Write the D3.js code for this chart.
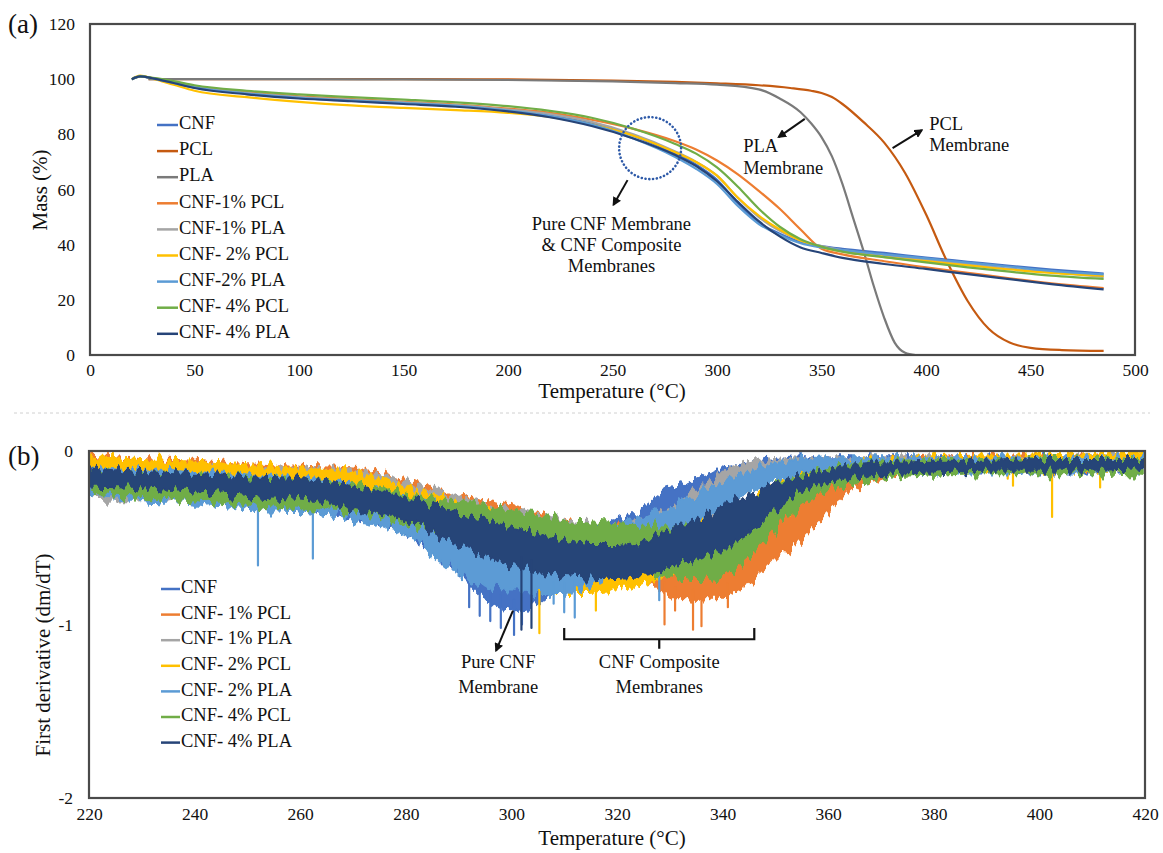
<!DOCTYPE html>
<html>
<head>
<meta charset="utf-8">
<script src="https://cdn.jsdelivr.net/npm/d3@7"></script>
<style>
  body { margin: 0; background: #fff; }
  text { font-family: "Liberation Serif", "Times New Roman", serif; fill: #111; }
</style>
</head>
<body>
<svg id="chart" width="1163" height="853"></svg>
<script>
// ---- (a) TGA mass curves ----
const tgaTemps = [20, 24, 30, 40, 50, 75, 100, 125, 150, 175, 200, 220, 240, 260, 280, 290, 300, 310, 320, 330, 340, 350, 360, 380, 400, 420, 440, 460, 485];
const cnfMass  = [100, 101, 100.3, 98.5, 97, 94.8, 93.2, 92.2, 91.3, 90.3, 88.8, 87, 84.2, 79.5, 73, 69, 63.5, 55, 48, 44, 41, 39.5, 38.5, 37, 35.3, 33.8, 32.3, 31, 29.5];
const pcl1Mass = [100, 101, 100.4, 99, 97.5, 95.3, 93.8, 92.8, 91.8, 90.8, 89.3, 87.8, 85.3, 82, 77.5, 74.5, 70.5, 65.5, 59.5, 53, 45.5, 38.5, 36.5, 34, 31.8, 29.8, 27.8, 26, 24.3];
const pla1Mass = [100, 101, 100.3, 98.8, 97.2, 95, 93.5, 92.5, 91.6, 90.6, 89, 87.3, 84.5, 80, 73.8, 70, 65, 57, 50, 45, 41.5, 39.5, 38, 36.2, 34.5, 33, 31.3, 30, 28.3];
const pcl2Mass = [100, 101.3, 100.2, 98, 95.8, 93.5, 91.8, 90.5, 89.6, 88.8, 87.8, 86.3, 83.5, 79.5, 73.5, 70, 65, 57, 50.5, 45.5, 41.5, 39, 37.5, 35.5, 34, 32.5, 31, 29.8, 28.7];
const pla2Mass = [100, 101, 100.3, 98.6, 97, 94.8, 93.2, 92.2, 91.3, 90.3, 88.6, 86.6, 83.5, 78.5, 71.8, 67.5, 62, 54, 47.5, 43.5, 40.5, 39, 38, 36.5, 35, 33.5, 32, 30.5, 29.2];
const pcl4Mass = [100, 101, 100.5, 99.3, 97.8, 95.8, 94.5, 93.5, 92.6, 91.6, 90.2, 88.5, 86, 82, 76.5, 73, 68, 61, 53, 46.5, 42, 39.3, 37.5, 35.5, 33.6, 31.8, 30.2, 28.8, 27.6];
const pla4Mass = [100, 101, 100.3, 98.6, 96.8, 94.5, 93, 92, 91, 90, 88.3, 86.2, 83, 78.5, 72.5, 68.5, 63, 55.5, 48.5, 43, 39, 37, 35.2, 33, 31.2, 29.3, 27.5, 25.7, 23.8];

const pclTemps = [28, 50, 100, 150, 200, 250, 280, 300, 320, 335, 345, 350, 355, 360, 370, 380, 390, 400, 410, 420, 430, 440, 450, 465, 485];
const pclMass  = [100, 100, 100, 100, 99.9, 99.5, 99, 98.5, 97.8, 96.8, 95.8, 95, 93.5, 91, 84.5, 77, 66, 51, 34, 19.5, 9.5, 4.5, 2.6, 1.8, 1.5];
const plaTemps = [28, 50, 100, 150, 200, 250, 280, 300, 320, 330, 340, 345, 350, 355, 360, 365, 370, 375, 380, 385, 390, 395];
const plaMass  = [100, 100, 100, 99.9, 99.7, 99.2, 98.6, 98, 96.3, 93, 88, 84, 79, 72, 62, 50, 38, 25, 13.5, 4.5, 0.8, 0];

const tgaNames  = ["CNF", "PCL", "PLA", "CNF-1% PCL", "CNF-1% PLA", "CNF- 2% PCL", "CNF-2% PLA", "CNF- 4% PCL", "CNF- 4% PLA"];
const tgaColors = ["#4472C4", "#C55A11", "#7A7A7A", "#ED7D31", "#A5A5A5", "#FFC000", "#5B9BD5", "#70AD47", "#264478"];

// ---- (b) DTG bands (upper / lower envelope of the noisy traces) ----
const dtgTemps = [220, 230, 240, 250, 260, 270, 280, 290, 295, 300, 305, 310, 315, 320, 325, 330, 335, 340, 345, 350, 355, 360, 365, 370, 380, 390, 400, 410, 420];
const cnfHi  = [-0.08, -0.10, -0.12, -0.14, -0.16, -0.20, -0.25, -0.38, -0.45, -0.48, -0.50, -0.48, -0.45, -0.40, -0.32, -0.22, -0.16, -0.10, -0.07, -0.05, -0.04, -0.04, -0.04, -0.04, -0.04, -0.04, -0.04, -0.04, -0.04];
const cnfLo  = [-0.22, -0.24, -0.26, -0.30, -0.32, -0.38, -0.48, -0.70, -0.85, -0.92, -0.88, -0.75, -0.62, -0.55, -0.48, -0.40, -0.32, -0.25, -0.17, -0.14, -0.12, -0.11, -0.11, -0.11, -0.11, -0.12, -0.12, -0.12, -0.12];
const pcl1Hi = [-0.03, -0.05, -0.06, -0.08, -0.09, -0.10, -0.17, -0.26, -0.30, -0.33, -0.37, -0.40, -0.43, -0.45, -0.50, -0.55, -0.58, -0.60, -0.52, -0.38, -0.25, -0.15, -0.09, -0.06, -0.04, -0.03, -0.03, -0.03, -0.03];
const pcl1Lo = [-0.15, -0.16, -0.17, -0.19, -0.20, -0.24, -0.32, -0.42, -0.46, -0.50, -0.54, -0.58, -0.62, -0.66, -0.74, -0.84, -0.86, -0.84, -0.76, -0.63, -0.50, -0.35, -0.22, -0.15, -0.11, -0.10, -0.10, -0.10, -0.10];
const pla1Hi = [-0.08, -0.09, -0.10, -0.10, -0.10, -0.11, -0.18, -0.26, -0.30, -0.34, -0.37, -0.40, -0.42, -0.43, -0.40, -0.32, -0.22, -0.12, -0.06, -0.05, -0.04, -0.04, -0.04, -0.04, -0.04, -0.04, -0.04, -0.04, -0.04];
const pla1Lo = [-0.28, -0.27, -0.25, -0.25, -0.26, -0.28, -0.36, -0.48, -0.52, -0.56, -0.59, -0.62, -0.65, -0.68, -0.64, -0.55, -0.45, -0.35, -0.20, -0.12, -0.10, -0.10, -0.10, -0.10, -0.10, -0.10, -0.10, -0.10, -0.10];
const pcl2Hi = [-0.03, -0.05, -0.06, -0.08, -0.10, -0.12, -0.20, -0.30, -0.34, -0.38, -0.42, -0.45, -0.46, -0.46, -0.45, -0.43, -0.40, -0.35, -0.28, -0.18, -0.12, -0.08, -0.06, -0.05, -0.04, -0.03, -0.03, -0.02, -0.01];
const pcl2Lo = [-0.18, -0.19, -0.20, -0.22, -0.24, -0.27, -0.36, -0.52, -0.62, -0.70, -0.78, -0.82, -0.82, -0.80, -0.76, -0.70, -0.65, -0.60, -0.50, -0.38, -0.26, -0.18, -0.15, -0.13, -0.11, -0.11, -0.11, -0.11, -0.11];
const pla2Hi = [-0.10, -0.11, -0.12, -0.14, -0.16, -0.20, -0.28, -0.35, -0.42, -0.45, -0.48, -0.48, -0.46, -0.42, -0.38, -0.32, -0.25, -0.18, -0.12, -0.07, -0.05, -0.04, -0.04, -0.04, -0.04, -0.04, -0.04, -0.04, -0.04];
const pla2Lo = [-0.26, -0.28, -0.30, -0.34, -0.35, -0.40, -0.48, -0.70, -0.78, -0.80, -0.82, -0.82, -0.78, -0.70, -0.60, -0.50, -0.42, -0.35, -0.26, -0.18, -0.13, -0.11, -0.11, -0.11, -0.12, -0.12, -0.12, -0.12, -0.12];
const pcl4Hi = [-0.12, -0.13, -0.14, -0.15, -0.17, -0.20, -0.25, -0.30, -0.32, -0.35, -0.37, -0.40, -0.41, -0.42, -0.43, -0.44, -0.44, -0.40, -0.30, -0.20, -0.14, -0.10, -0.08, -0.06, -0.05, -0.05, -0.05, -0.05, -0.05];
const pcl4Lo = [-0.25, -0.26, -0.28, -0.30, -0.32, -0.35, -0.42, -0.50, -0.54, -0.58, -0.60, -0.62, -0.64, -0.66, -0.69, -0.72, -0.74, -0.72, -0.62, -0.45, -0.30, -0.22, -0.18, -0.16, -0.14, -0.13, -0.13, -0.13, -0.14];
const pla4Hi = [-0.10, -0.12, -0.13, -0.15, -0.16, -0.20, -0.27, -0.36, -0.40, -0.44, -0.48, -0.52, -0.54, -0.54, -0.52, -0.45, -0.40, -0.32, -0.25, -0.19, -0.15, -0.11, -0.08, -0.07, -0.06, -0.06, -0.05, -0.05, -0.05];
const pla4Lo = [-0.20, -0.21, -0.23, -0.26, -0.28, -0.33, -0.40, -0.54, -0.60, -0.66, -0.70, -0.72, -0.73, -0.72, -0.71, -0.67, -0.62, -0.56, -0.47, -0.34, -0.24, -0.18, -0.15, -0.13, -0.12, -0.11, -0.11, -0.11, -0.10];

// sharp downward spikes [temp, value]
const cnfSpikes  = [[292, -0.9], [294, -0.95], [296, -0.98], [298, -1.02], [300.5, -1.06], [302, -1.0]];
const pcl1Spikes = [[329, -1.0], [331, -0.92], [334.4, -1.03], [336, -1.01], [341, -0.9]];
const pcl2Spikes = [[305.3, -1.05], [316, -0.92], [394, -0.16], [395, -0.2], [402.4, -0.38], [411.5, -0.21]];
const pla2Spikes = [[252, -0.66], [262.4, -0.62], [290, -0.72], [308, -0.88], [310, -0.93], [312, -0.96], [328, -0.86]];
const pla4Spikes = [[301.9, -1.03], [303.8, -1.02]];

const dtgNames  = ["CNF", "CNF- 1% PCL", "CNF- 1% PLA", "CNF- 2% PCL", "CNF- 2% PLA", "CNF- 4% PCL", "CNF- 4% PLA"];
const dtgColors = ["#4472C4", "#ED7D31", "#A5A5A5", "#FFC000", "#5B9BD5", "#70AD47", "#264478"];

const svg = d3.select("#chart");
const font = '"Liberation Serif", "Times New Roman", serif';
const defs = svg.append("defs");

// ===================== panel (a) =====================
const xA = d3.scaleLinear().domain([0, 500]).range([90, 1135]);
const yA = d3.scaleLinear().domain([0, 120]).range([355, 24]);

const tgaSeries = [
  { temps: tgaTemps, mass: cnfMass },
  { temps: pclTemps, mass: pclMass },
  { temps: plaTemps, mass: plaMass },
  { temps: tgaTemps, mass: pcl1Mass },
  { temps: tgaTemps, mass: pla1Mass },
  { temps: tgaTemps, mass: pcl2Mass },
  { temps: tgaTemps, mass: pla2Mass },
  { temps: tgaTemps, mass: pcl4Mass },
  { temps: tgaTemps, mass: pla4Mass },
].map((s, i) => ({ name: tgaNames[i], color: tgaColors[i], pts: s.temps.map((t, j) => [t, s.mass[j]]) }));

const lineA = d3.line().x(d => xA(d[0])).y(d => yA(d[1])).curve(d3.curveMonotoneX);
const gA = svg.append("g");
gA.selectAll("path.tga").data(tgaSeries).enter().append("path")
  .attr("class", "tga")
  .attr("d", d => lineA(d.pts))
  .attr("fill", "none")
  .attr("stroke", d => d.color)
  .attr("stroke-width", 2.2);

gA.append("rect").attr("x", 90).attr("y", 24).attr("width", 1045).attr("height", 331)
  .attr("fill", "none").attr("stroke", "#4a4a4a").attr("stroke-width", 2.2);

const axA = gA.append("g").attr("transform", "translate(0,355)")
  .call(d3.axisBottom(xA).tickValues(d3.range(0, 501, 50)).tickSize(0).tickPadding(9));
const ayA = gA.append("g").attr("transform", "translate(90,0)")
  .call(d3.axisLeft(yA).tickValues(d3.range(0, 121, 20)).tickSize(0).tickPadding(15));
[axA, ayA].forEach(a => {
  a.attr("font-family", font);
  a.select(".domain").remove();
  a.selectAll("text").attr("font-size", 17.5).attr("fill", "#111");
});

gA.append("text").attr("x", 612).attr("y", 393).attr("text-anchor", "middle")
  .attr("dominant-baseline", "middle").attr("font-size", 21).text("Temperature (°C)");
gA.append("text").attr("transform", "translate(42,190) rotate(-90)").attr("text-anchor", "middle")
  .attr("dominant-baseline", "middle").attr("font-size", 21).text("Mass (%)");
svg.append("text").attr("x", 8).attr("y", 33).attr("font-size", 27).text("(a)");

// legend (a)
const legA = gA.append("g");
tgaSeries.forEach((s, i) => {
  const y = 125 + i * 26.1;
  legA.append("line").attr("x1", 157).attr("x2", 178).attr("y1", y).attr("y2", y)
    .attr("stroke", s.color).attr("stroke-width", 2.5);
  legA.append("text").attr("x", 179).attr("y", y).attr("dominant-baseline", "middle")
    .attr("font-size", 18.5).text(s.name);
});

// annotations (a)
defs.append("marker").attr("id", "arrow").attr("viewBox", "0 0 10 10").attr("refX", 8).attr("refY", 5)
  .attr("markerWidth", 4.5).attr("markerHeight", 4.5).attr("orient", "auto")
  .append("path").attr("d", "M0,0 L10,5 L0,10 z").attr("fill", "#111");

function arrow(g, x, y, p0, p1) {
  g.append("line").attr("x1", x(p0[0])).attr("y1", y(p0[1])).attr("x2", x(p1[0])).attr("y2", y(p1[1]))
    .attr("stroke", "#111").attr("stroke-width", 2).attr("marker-end", "url(#arrow)");
}
function label(g, x, y, t, v, lines, anchor) {
  lines.forEach((s, i) => {
    g.append("text").attr("x", x(t)).attr("y", y(v[i])).attr("text-anchor", anchor)
      .attr("dominant-baseline", "middle").attr("font-size", 18.5).text(s);
  });
}

gA.append("circle").attr("cx", xA(268)).attr("cy", yA(75)).attr("r", 31)
  .attr("fill", "none").attr("stroke", "#2E5AA8").attr("stroke-width", 2.6)
  .attr("stroke-dasharray", "0.1,3.7").attr("stroke-linecap", "round");
arrow(gA, xA, yA, [257.2, 63.4], [250.5, 54.5]);
label(gA, xA, yA, 249.5, [46.8, 39.2, 31.5], ["Pure CNF Membrane", "& CNF Composite", "Membranes"], "middle");
arrow(gA, xA, yA, [342, 85.6], [329.5, 79]);
label(gA, xA, yA, 312.5, [75, 67], ["PLA", "Membrane"], "start");
arrow(gA, xA, yA, [384, 75], [398, 81.5]);
label(gA, xA, yA, 401.5, [83, 75.4], ["PCL", "Membrane"], "start");

// separator
svg.append("line").attr("x1", 14).attr("x2", 1150).attr("y1", 413).attr("y2", 413)
  .attr("stroke", "#d0d0d0").attr("stroke-width", 1).attr("stroke-dasharray", "3,3");

// ===================== panel (b) =====================
const xB = d3.scaleLinear().domain([220, 420]).range([89, 1145]);
const yB = d3.scaleLinear().domain([-2, 0]).range([798, 451]);

const dtgSeries = [
  { hi: cnfHi,  lo: cnfLo,  spikes: cnfSpikes },
  { hi: pcl1Hi, lo: pcl1Lo, spikes: pcl1Spikes },
  { hi: pla1Hi, lo: pla1Lo, spikes: [] },
  { hi: pcl2Hi, lo: pcl2Lo, spikes: pcl2Spikes },
  { hi: pla2Hi, lo: pla2Lo, spikes: pla2Spikes },
  { hi: pcl4Hi, lo: pcl4Lo, spikes: [] },
  { hi: pla4Hi, lo: pla4Lo, spikes: pla4Spikes },
].map((s, i) => ({ ...s, name: dtgNames[i], color: dtgColors[i] }));

defs.append("clipPath").attr("id", "clipB").append("rect")
  .attr("x", 89).attr("y", 451).attr("width", 1056).attr("height", 347);

// jagged-edge texture for the noisy derivative traces
dtgSeries.forEach((s, i) => {
  const f = defs.append("filter").attr("id", "rough" + i).attr("filterUnits", "userSpaceOnUse")
    .attr("x", 70).attr("y", 420).attr("width", 1100).attr("height", 400);
  f.append("feTurbulence").attr("type", "fractalNoise").attr("baseFrequency", "0.19 0.015")
    .attr("numOctaves", 2).attr("seed", i * 7 + 3).attr("result", "t");
  f.append("feDisplacementMap").attr("in", "SourceGraphic").attr("in2", "t").attr("scale", 20)
    .attr("xChannelSelector", "R").attr("yChannelSelector", "G");
});

const gB = svg.append("g");
const plotB = gB.append("g").attr("clip-path", "url(#clipB)");
const areaB = d3.area()
  .x((d, i) => xB(dtgTemps[i]))
  .y0(d => yB(d[1]))
  .y1(d => yB(d[0]))
  .curve(d3.curveMonotoneX);

dtgSeries.forEach((s, i) => {
  const g = plotB.append("g");
  g.append("path")
    .attr("filter", `url(#rough${i})`)
    .attr("d", areaB(s.hi.map((h, j) => [h, s.lo[j]])))
    .attr("fill", s.color).attr("stroke", s.color).attr("stroke-width", 1.5);
  // spikes stay crisp, outside the texture filter
  const loAt = d3.scaleLinear().domain(dtgTemps).range(s.lo);
  g.selectAll("line").data(s.spikes).enter().append("line")
    .attr("x1", d => xB(d[0])).attr("x2", d => xB(d[0]))
    .attr("y1", d => yB(loAt(d[0]) + 0.06)).attr("y2", d => yB(d[1]))
    .attr("stroke", s.color).attr("stroke-width", 2.2).attr("stroke-linecap", "round");
});

gB.append("rect").attr("x", 89).attr("y", 451).attr("width", 1056).attr("height", 347)
  .attr("fill", "none").attr("stroke", "#4a4a4a").attr("stroke-width", 2.2);

const axB = gB.append("g").attr("transform", "translate(0,798)")
  .call(d3.axisBottom(xB).tickValues(d3.range(220, 421, 20)).tickSize(0).tickPadding(10));
const ayB = gB.append("g").attr("transform", "translate(89,0)")
  .call(d3.axisLeft(yB).tickValues([-2, -1, 0]).tickFormat(d => String(d)).tickSize(0).tickPadding(16));
[axB, ayB].forEach(a => {
  a.attr("font-family", font);
  a.select(".domain").remove();
  a.selectAll("text").attr("font-size", 17.5).attr("fill", "#111");
});

gB.append("text").attr("x", 612).attr("y", 840).attr("text-anchor", "middle")
  .attr("dominant-baseline", "middle").attr("font-size", 21).text("Temperature (°C)");
gB.append("text").attr("transform", "translate(45,655) rotate(-90)").attr("text-anchor", "middle")
  .attr("dominant-baseline", "middle").attr("font-size", 21).text("First derivative (dm/dT)");
svg.append("text").attr("x", 8).attr("y", 465).attr("font-size", 27).text("(b)");

// legend (b)
dtgSeries.forEach((s, i) => {
  const y = 589 + i * 25.6;
  gB.append("line").attr("x1", 161).attr("x2", 180).attr("y1", y).attr("y2", y)
    .attr("stroke", s.color).attr("stroke-width", 2.5);
  gB.append("text").attr("x", 181).attr("y", y).attr("dominant-baseline", "middle")
    .attr("font-size", 18.5).text(s.name);
});

// annotations (b)
arrow(gB, xB, yB, [300.3, -0.92], [297.1, -1.15]);
label(gB, xB, yB, 297.5, [-1.227, -1.37], ["Pure CNF", "Membrane"], "middle");
const bracket = d3.path();
bracket.moveTo(xB(310), yB(-1.02));
bracket.lineTo(xB(310), yB(-1.085));
bracket.lineTo(xB(346), yB(-1.085));
bracket.lineTo(xB(346), yB(-1.02));
bracket.moveTo(xB(328), yB(-1.085));
bracket.lineTo(xB(328), yB(-1.14));
gB.append("path").attr("d", bracket.toString()).attr("fill", "none")
  .attr("stroke", "#111").attr("stroke-width", 2.2);
label(gB, xB, yB, 328, [-1.227, -1.37], ["CNF Composite", "Membranes"], "middle");
</script>
</body>
</html>
